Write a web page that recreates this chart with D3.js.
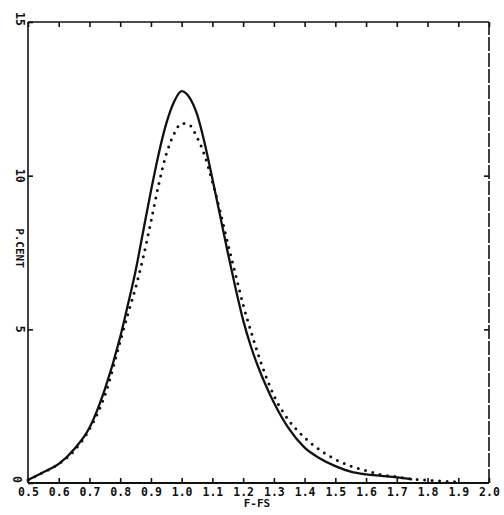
<!DOCTYPE html>
<html>
<head>
  <meta charset="utf-8">
  <title>P.CENT vs F-FS</title>
  <style>
    body{ margin:0; padding:0; background:#fff; }
    .chart text{ font-family:"DejaVu Sans Mono", monospace; font-weight:bold; fill:#111; }
    .axis path, .axis line{ stroke:#111; stroke-width:1.6; }
    .axis .domain{ display:none; }
  </style>
</head>
<body>
<svg class="chart"></svg>
<script src="https://d3js.org/d3.v7.min.js"></script>
<script>
var width = 504, height = 515;

// values
var xs     = [0.50,0.55,0.60,0.65,0.70,0.75,0.80,0.825,0.85,0.875,0.90,0.925,0.95,0.975,1.00,1.025,1.05,1.075,1.10,1.125,1.15,1.175,1.20,1.225,1.25,1.275,1.30,1.35,1.40,1.45,1.50,1.55,1.60,1.65,1.70,1.75,1.80,1.85,1.90];
var solid  = [0.10,0.35,0.62,1.10,1.80,3.05,4.75,5.80,6.90,8.20,9.50,10.70,11.70,12.40,12.75,12.55,12.00,11.05,9.90,8.70,7.50,6.35,5.30,4.45,3.75,3.15,2.62,1.75,1.15,0.80,0.55,0.37,0.28,0.23,0.18,0.12,null,null,null];
var dotted = [0.10,0.35,0.62,1.05,1.75,2.85,4.60,5.50,6.35,7.35,8.50,9.70,10.70,11.35,11.70,11.65,11.25,10.65,9.80,8.85,7.80,6.80,5.80,4.95,4.15,3.45,2.85,2.02,1.48,1.07,0.77,0.55,0.40,0.27,0.20,0.13,0.09,0.06,0.03];
var xTicks = [0.5,0.6,0.7,0.8,0.9,1.0,1.1,1.2,1.3,1.4,1.5,1.6,1.7,1.8,1.9,2.0];
var yTicks = [0,5,10,15];

var x = d3.scaleLinear().domain([0.5, 2.0]).range([28, 489]);
var y = d3.scaleLinear().domain([0, 15]).range([483, 22]);

var svg = d3.select(".chart")
    .attr("width", width)
    .attr("height", height);

// frame
svg.append("line").attr("x1", x(0.5)).attr("x2", x(2.0)).attr("y1", y(0)).attr("y2", y(0))
   .attr("stroke", "#111").attr("stroke-width", 1.8);
svg.append("line").attr("x1", x(0.5)).attr("x2", x(0.5)).attr("y1", y(0)).attr("y2", y(15))
   .attr("stroke", "#111").attr("stroke-width", 1.6);
svg.append("line").attr("x1", x(0.5)).attr("x2", x(2.0)).attr("y1", y(15)).attr("y2", y(15))
   .attr("stroke", "#111").attr("stroke-width", 1.6);
svg.append("line").attr("x1", x(2.0)).attr("x2", x(2.0)).attr("y1", y(0)).attr("y2", y(15))
   .attr("stroke", "#111").attr("stroke-width", 1.6).attr("stroke-dasharray", "14 2");

// bottom axis, inward ticks
svg.append("g").attr("class", "axis")
   .attr("transform", "translate(0," + y(0) + ")")
   .call(d3.axisBottom(x).tickValues(xTicks).tickSize(-5).tickPadding(5)
         .tickFormat(d3.format(".1f")))
   .selectAll("text").style("font-size", "11.5px");

// top axis
svg.append("g").attr("class", "axis")
   .attr("transform", "translate(0," + y(15) + ")")
   .call(d3.axisTop(x).tickValues(xTicks).tickSize(-5).tickFormat(""));

// left and right axes
svg.append("g").attr("class", "axis")
   .attr("transform", "translate(" + x(0.5) + ",0)")
   .call(d3.axisLeft(y).tickValues(yTicks).tickSize(-5).tickFormat(""));
svg.append("g").attr("class", "axis")
   .attr("transform", "translate(" + x(2.0) + ",0)")
   .call(d3.axisRight(y).tickValues([5,10]).tickSize(-5).tickFormat(""));

// rotated y labels
svg.selectAll(".ylab")
   .data(yTicks)
   .enter().append("text")
   .attr("class", "ylab")
   .attr("transform", function(d){
     return "translate(" + (x(0.5) - (d == 0 ? 11 : 8)) + "," + (d == 15 ? y(d) - 3 : y(d)) + ") rotate(90)";
   })
   .attr("text-anchor", function(d){ return d == 0 ? "end" : "middle"; })
   .attr("dy", "0.35em")
   .style("font-size", "11.5px")
   .text(function(d){ return d; });

svg.append("text")
   .attr("transform", "translate(" + (x(0.5) - 8) + "," + 248 + ") rotate(90)")
   .attr("text-anchor", "middle")
   .attr("dy", "0.35em")
   .style("font-size", "11px")
   .text("P.CENT");

svg.append("text")
   .attr("x", 257).attr("y", 507)
   .attr("text-anchor", "middle")
   .style("font-size", "11px")
   .text("F-FS");

var rows = xs.map(function(v, i){ return {x: v, s: solid[i], d: dotted[i]}; });

svg.append("path")
   .datum(rows)
   .attr("fill", "none")
   .attr("stroke", "#111")
   .attr("stroke-width", 2.3)
   .attr("d", d3.line()
       .defined(function(d){ return d.s != null; })
       .curve(d3.curveMonotoneX)
       .x(function(d){ return x(d.x); })
       .y(function(d){ return y(d.s); }));

svg.append("path")
   .datum(rows)
   .attr("fill", "none")
   .attr("stroke", "#111")
   .attr("stroke-width", 3)
   .attr("stroke-linecap", "round")
   .attr("stroke-dasharray", "0 7.5")
   .attr("d", d3.line()
       .curve(d3.curveMonotoneX)
       .x(function(d){ return x(d.x); })
       .y(function(d){ return y(d.d); }));
</script>
</body>
</html>
